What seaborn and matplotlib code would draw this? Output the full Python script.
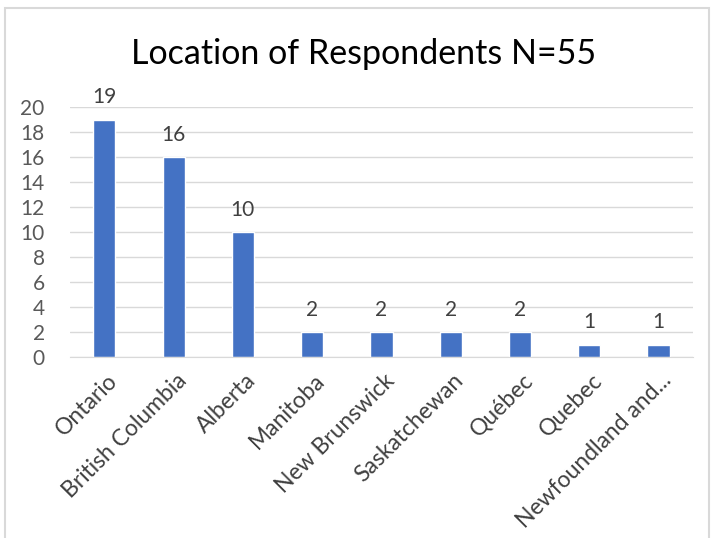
import seaborn as sns
import matplotlib.pyplot as plt
import matplotlib.transforms as mtransforms
import pandas as pd

# Survey respondents by province
provinces = ['Ontario', 'British Columbia', 'Alberta', 'Manitoba', 'New Brunswick',
             'Saskatchewan', 'Québec', 'Quebec', 'Newfoundland and...']
counts = [19, 16, 10, 2, 2, 2, 2, 1, 1]
y_ticks = list(range(0, 21, 2))

df = pd.DataFrame({'Province': provinces, 'Respondents': counts})

sns.set_style("white")
plt.rcParams['font.family'] = ['Lato', 'DejaVu Sans']

fig = plt.figure(figsize=(7.11, 5.38), dpi=100)
ax = fig.add_axes([0.098, 0.336, 0.877, 0.465])

sns.barplot(data=df, x='Province', y='Respondents', color='#4472C4',
            width=0.32, saturation=1, ax=ax)

# data labels above each bar
for i, v in enumerate(counts):
    ax.annotate(str(v), (i, v), xytext=(0, 9), textcoords='offset points',
                ha='center', va='bottom', fontsize=15, color='#404040')

ax.set_ylim(0, 20)
ax.set_yticks(y_ticks)
ax.yaxis.grid(True, color='#D9D9D9', linewidth=1)
ax.set_axisbelow(True)
for s in ['top', 'right', 'left']:
    ax.spines[s].set_visible(False)
ax.spines['bottom'].set_color('#D9D9D9')
ax.tick_params(axis='y', length=0, labelsize=15, labelcolor='#595959', pad=18)
ax.tick_params(axis='x', length=0, labelsize=16.5, labelcolor='#404040', pad=9)
shift = mtransforms.ScaledTranslation(2 / 100, 0, fig.dpi_scale_trans)
for lbl in ax.get_xticklabels():
    lbl.set_rotation(45)
    lbl.set_ha('right')
    lbl.set_va('top')
    lbl.set_rotation_mode('anchor')
    lbl.set_transform(lbl.get_transform() + shift)
ax.set_xlabel('')
ax.set_ylabel('')

fig.text(0.512, 0.9, 'Location of Respondents N=55', ha='center', va='center',
         fontsize=24.5, color='#000000')

# chart area border
fig.add_artist(plt.Rectangle((0.007, -0.01), 0.99, 0.995, transform=fig.transFigure,
                             fill=False, edgecolor='#D9D9D9', linewidth=1.5))

fig.savefig('out.png', dpi=100)
